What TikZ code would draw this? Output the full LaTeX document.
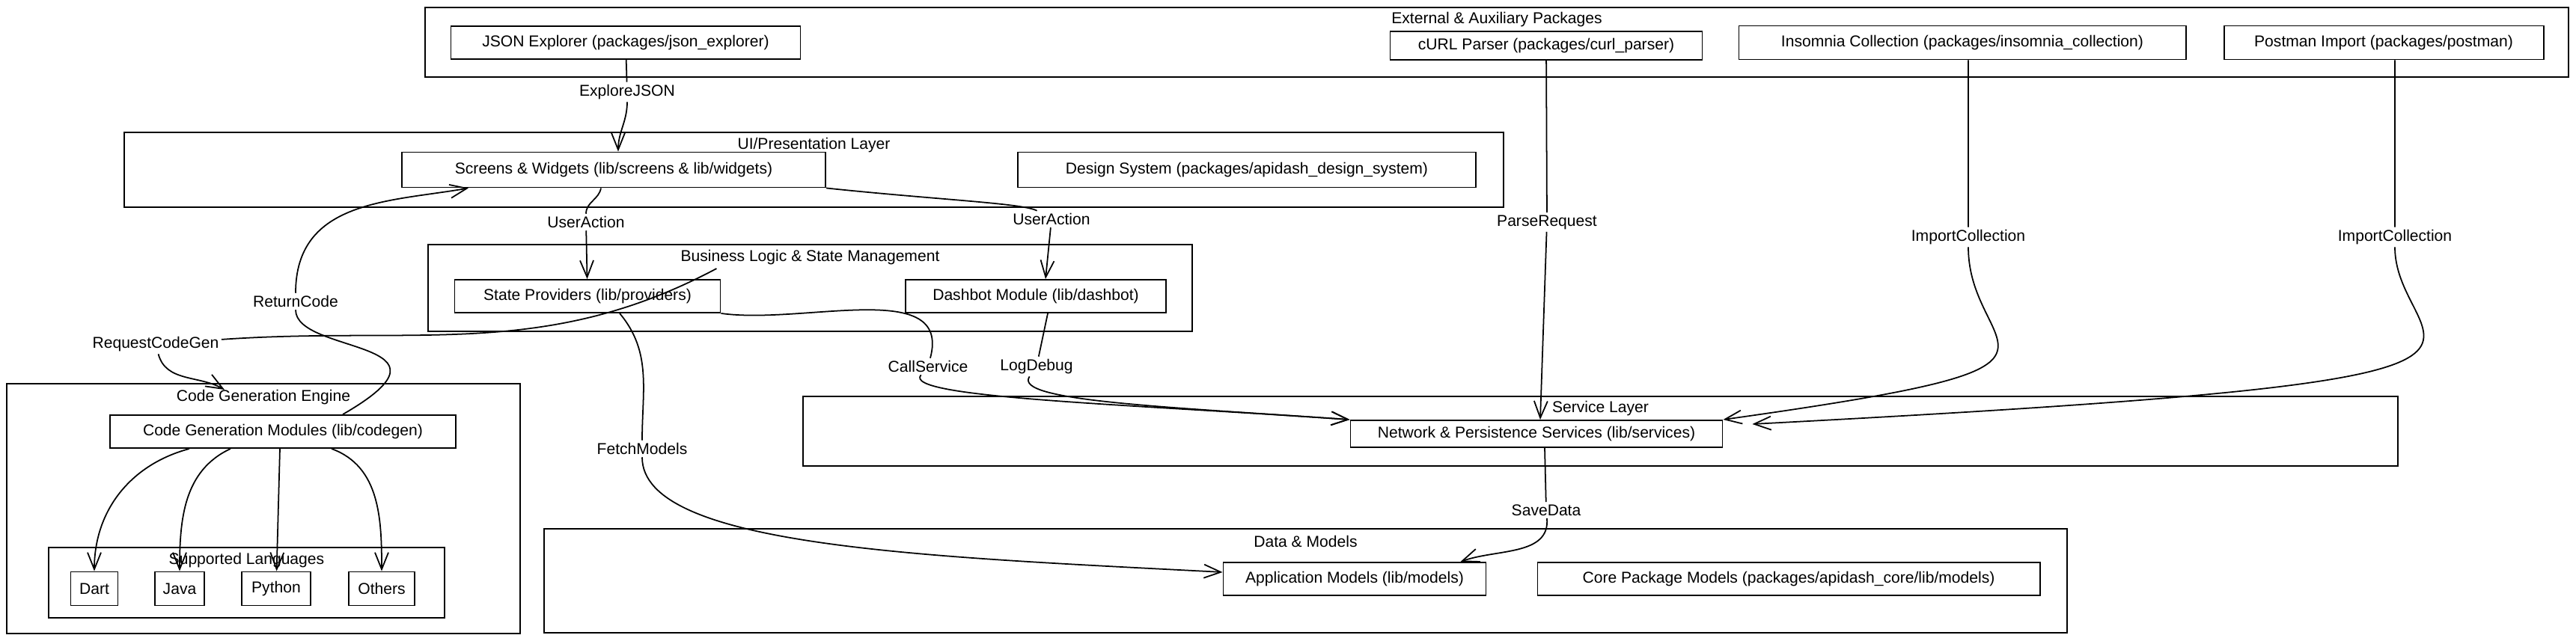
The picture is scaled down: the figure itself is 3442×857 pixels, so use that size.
\documentclass[tikz,border=0pt]{standalone}
\usepackage{fontspec}
\setmainfont{Liberation Sans}
\usetikzlibrary{arrows.meta}

\tikzset{
  box/.style={draw, line width=1.1pt, rectangle, minimum height=8.8mm, inner sep=0pt},
  group/.style={draw, line width=1.1pt, rectangle, inner sep=0pt},
  grouptitle/.style={inner sep=0pt},
  lbl/.style={fill=white, inner sep=1.5pt},
}

\begin{document}
\begin{tikzpicture}[>={Straight Barb[length=4.5mm,width=3.6mm]}, x=0.2mm, y=-0.2mm, line width=1pt,
  font=\fontsize{12}{14}\selectfont, node distance=30mm]
\useasboundingbox (0,0) rectangle (3442,857);

% groups
\node[group, minimum width=572.8mm, minimum height=18.6mm] (ext)  at (2000,56.5)  {};
\node[group, minimum width=368.6mm, minimum height=20mm]   (ui)   at (1087.5,227) {};
\node[group, minimum width=204.2mm, minimum height=23.2mm] (bl)   at (1082.5,385) {};
\node[group, minimum width=137.2mm, minimum height=66.8mm] (cge)  at (352,680)    {};
\node[group, minimum width=105.8mm, minimum height=18.8mm] (langs) at (329.5,779) {};
\node[group, minimum width=426.2mm, minimum height=18.6mm] (svc)  at (2138.5,576.5) {};
\node[group, minimum width=407mm,   minimum height=27.8mm] (data) at (1744.5,776.5) {};

\node[grouptitle] (extT)   at ([yshift=-3.4mm]ext.north)   {External \& Auxiliary Packages};
\node[grouptitle] (uiT)    at ([yshift=-3.6mm]ui.north)    {UI/Presentation Layer};
\node[grouptitle] (blT)    at ([yshift=-3.6mm]bl.north)    {Business Logic \& State Management};
\node[grouptitle] (cgeT)   at ([yshift=-3.8mm]cge.north)   {Code Generation Engine};
\node[grouptitle] (langsT) at ([yshift=-3.6mm]langs.north) {Supported Languages};
\node[grouptitle] (svcT)   at ([yshift=-3.4mm]svc.north)   {Service Layer};
\node[grouptitle] (dataT)  at ([yshift=-3.6mm]data.north)  {Data \& Models};

% packages
\node[box, minimum width=93.4mm]  (jsonx) at (836,57)  {JSON Explorer (packages/json\_explorer)};
\node[box, minimum width=83.4mm, minimum height=7.6mm] (curl) at (2066,61) {cURL Parser (packages/curl\_parser)};
\node[box, minimum width=119.4mm, minimum height=9mm] (insom) at (2622,57) {Insomnia Collection (packages/insomnia\_collection)};
\node[box, minimum width=85.4mm, minimum height=9mm]  (postm) [right of=insom, node distance=112.6mm] {Postman Import (packages/postman)};

% ui
\node[box, minimum width=113.2mm, minimum height=9.4mm] (screens) at (820,227) {Screens \& Widgets (lib/screens \& lib/widgets)};
\node[box, minimum width=122.4mm, minimum height=9.4mm] (design) [right of=screens, node distance=169.2mm] {Design System (packages/apidash\_design\_system)};

% logic
\node[box, minimum width=71mm]   (sp)      at (785,396) {State Providers (lib/providers)};
\node[box, minimum width=69.6mm] (dashbot) [right of=sp, node distance=119.8mm] {Dashbot Module (lib/dashbot)};

% codegen
\node[box, minimum width=92.4mm] (cgm) at (378,577) {Code Generation Modules (lib/codegen)};
\node[box, minimum width=12.6mm, minimum height=9mm] (dart)   at (126,787) {Dart};
\node[box, minimum width=13.2mm, minimum height=9mm] (java)   [right of=dart, node distance=22.8mm]   {Java};
\node[box, minimum width=18.4mm, minimum height=9mm] (python) [right of=java, node distance=25.8mm]   {Python};
\node[box, minimum width=17.6mm, minimum height=9mm] (others) [right of=python, node distance=28.2mm] {Others};

% services and models
\node[box, minimum width=99.4mm, minimum height=7.2mm] (net) at (2053,580) {Network \& Persistence Services (lib/services)};
\node[box, minimum width=70.2mm]  (appm) at (1810,774) {Application Models (lib/models)};
\node[box, minimum width=134.2mm] (core) [right of=appm, node distance=116mm] {Core Package Models (packages/apidash\_core/lib/models)};

% edge labels
\node[lbl] (lexplore) at (838,123)  {ExploreJSON};
\node[lbl] (luser1)   at (783,297)  {UserAction};
\node[lbl] (luser2)   at (1405,293) {UserAction};
\node[lbl] (lparse)   at (2067,297) {ParseRequest};
\node[lbl] (limport1) at (2630,317) {ImportCollection};
\node[lbl] (limport2) at (3200,317) {ImportCollection};
\node[lbl] (lret)     at (395,403)  {ReturnCode};
\node[lbl] (lreq)     at (208,460)  {RequestCodeGen};
\node[lbl] (lcall)    at (1240,490) {CallService};
\node[lbl] (llog)     at (1385,490) {LogDebug};
\node[lbl] (lfetch)   at (858,600)  {FetchModels};
\node[lbl] (lsave)    at (2066,682) {SaveData};

\path[->] (jsonx)    edge[-] (lexplore)
          (lexplore) edge[out=-90, in=90] ([xshift=1.2mm]screens.north)
          ([xshift=-3.4mm]screens.south) edge[-, out=-100, in=90] (luser1)
          (luser1)   edge (sp)
          (screens.south east) edge[-, out=-6, in=150, out distance=30mm, in distance=4mm] (luser2)
          (luser2)   edge ([xshift=2.6mm]dashbot.north)
          (curl)     edge[-] (lparse)
          (lparse)   edge ([xshift=1mm]net.north)
          ([xshift=1.6mm]insom.south) edge[-] (limport1)
          (limport1) edge[out=-90, in=8, out distance=30mm, in distance=108mm] (net.north east)
          ([xshift=3mm]postm.south) edge[-] (limport2)
          (limport2) edge[out=-90, in=3, out distance=30mm, in distance=235mm] ([xshift=7.8mm,yshift=2.6mm]net.east)
          (sp.south east) edge[-, out=-8, in=75] (lcall)
          (lcall)    edge[out=-130, in=176, out distance=8mm, in distance=60mm] (net.north west)
          ([xshift=3.2mm]dashbot.south) edge[-] (llog)
          (llog)     edge[out=-125, in=176, out distance=8mm, in distance=50mm] (net.north west)
          ([xshift=-1.2mm,yshift=2.8mm]sp.north east) edge[-, out=208, in=4] (lreq)
          (lreq)     edge[out=-75, in=150] ([xshift=-10.4mm,yshift=-1.8mm]cge.north)
          ([xshift=16mm]cgm.north) edge[-, out=30, in=-90, out distance=40mm, in distance=12mm] (lret)
          (lret)     edge[out=90, in=190, out distance=25mm] ([xshift=18mm]screens.south west)
          ([xshift=8.6mm]sp.south) edge[-, out=-50, in=90] (lfetch)
          (lfetch)   edge[out=-90, in=177, out distance=24mm, in distance=80mm] ([yshift=1.8mm]appm.west)
          ([xshift=2.2mm]net.south) edge[-] (lsave)
          (lsave)    edge[out=-85, in=20] ([xshift=-7mm]appm.north east)
          ([xshift=-25mm]cgm.south) edge[out=195, in=90] (dart)
          ([xshift=-14mm]cgm.south) edge[out=205, in=90] (java)
          ([xshift=-0.8mm]cgm.south) edge (python)
          ([xshift=13mm]cgm.south) edge[out=-20, in=90] (others);
\end{tikzpicture}
\end{document}
